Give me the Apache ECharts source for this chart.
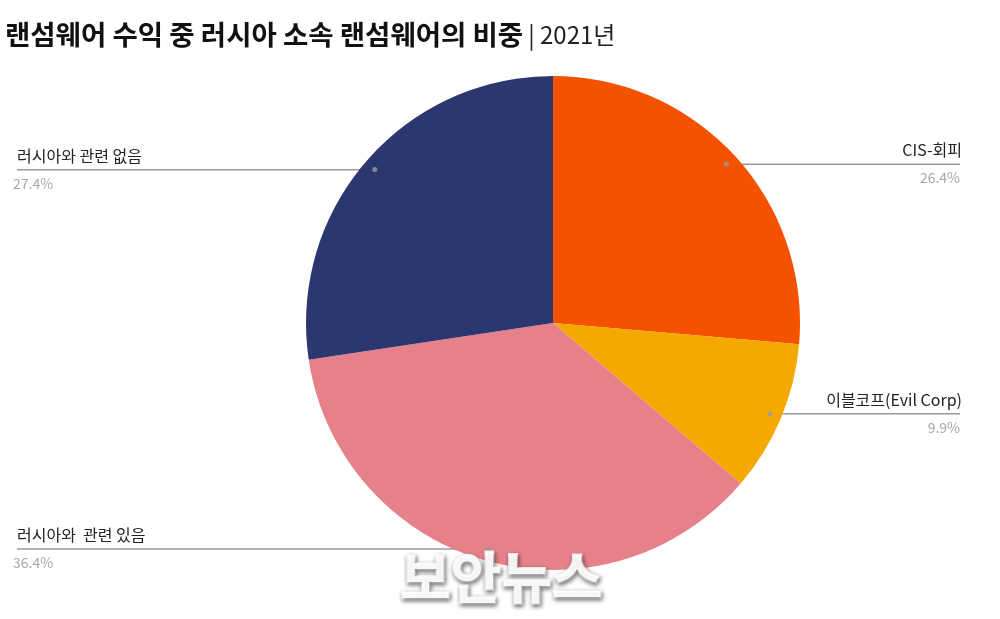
<!DOCTYPE html>
<html>
<head>
<meta charset="utf-8">
<script src="https://cdn.jsdelivr.net/npm/echarts@6/dist/echarts.min.js"></script>
<style>
html,body{margin:0;padding:0;background:#fff;}
#c{width:1000px;height:619px;}
</style>
</head>
<body>
<div id="c"></div>
<script>
const categories = ['CIS-회피', '이블코프(Evil Corp)', '러시아와  관련 있음', '러시아와 관련 없음'];
const values = [26.4, 9.9, 36.4, 27.4];
const colors = ['#F55200', '#F4A800', '#E6818A', '#2C3770'];

const total = values.reduce((a, b) => a + b, 0);
const mids = [];
let acc = 0;
values.forEach(v => { mids.push(acc + v / 2); acc += v; });

const FONT = '"Noto Sans CJK KR", "Noto Sans", sans-serif';
const BOX = 160;

const pieData = categories.map((n, i) => ({ name: n, value: values[i], itemStyle: { color: colors[i] } }));
const overlayData = categories.map((n, i) => {
  const right = mids[i] < total / 2;
  const al = right ? 'right' : 'left';
  return {
    name: n, value: values[i],
    label: {
      rich: {
        n: { fontFamily: FONT, fontSize: 16, color: '#222', lineHeight: 28, width: BOX, align: al, padding: right ? 0 : [0, 0, 0, 5] },
        p: { fontFamily: FONT, fontSize: 14, color: '#A8A8A8', lineHeight: 28, width: BOX, align: al, padding: right ? [0, 2, 0, 0] : [0, 0, 0, 1] }
      }
    }
  };
});

const chart = echarts.init(document.getElementById('c'));
chart.setOption({
  backgroundColor: '#fff',
  animation: false,
  title: {
    left: 0, top: 16,
    text: '{b|랜섬웨어 수익 중 러시아 소속 랜섬웨어의 비중} {n|| 2021년}',
    textStyle: {
      rich: {
        b: { fontFamily: FONT, fontSize: 27.5, fontWeight: 'bold', color: '#111' },
        n: { fontFamily: FONT, fontSize: 24, fontWeight: 'normal', color: '#222' }
      }
    }
  },
  polar: { center: [553, 323], radius: 247 },
  angleAxis: { type: 'value', min: 0, max: total, startAngle: 90, clockwise: true, show: false },
  radiusAxis: { type: 'value', min: 0, max: 1, show: false },
  series: [
    {
      type: 'pie',
      left: 0, top: 0, width: 974, height: 619,
      center: [553, 323],
      radius: 247,
      startAngle: 90,
      clockwise: true,
      silent: true,
      label: { show: false },
      labelLine: { show: false },
      itemStyle: { borderWidth: 0 },
      data: pieData
    },
    {
      type: 'pie',
      left: 0, top: 0, width: 974, height: 619,
      center: [553, 323],
      radius: 235,
      startAngle: 90,
      clockwise: true,
      silent: true,
      itemStyle: { color: 'rgba(0,0,0,0)' },
      label: {
        show: true,
        position: 'outside',
        alignTo: 'edge',
        edgeDistance: 12,
        distanceToLabelLine: -BOX,
        formatter: '{n|{b}}\n{p|{c}%}'
      },
      labelLine: { show: true, length: 0, length2: 20, lineStyle: { color: '#999', width: 1.5 } },
      data: overlayData
    },
    {
      type: 'scatter',
      coordinateSystem: 'polar',
      symbolSize: 5,
      silent: true,
      itemStyle: { color: '#9a9a9a' },
      data: mids.map(m => [0.952, m]),
      z: 5
    }
  ],
  graphic: [{
    type: 'text',
    left: 399, top: 548,
    z: 100,
    style: {
      text: '보안뉴스',
      font: 'bold 55px ' + FONT,
      fill: 'rgba(255,255,255,0.93)',
      stroke: 'rgba(255,255,255,0.93)',
      lineWidth: 2.5,
      textShadowBlur: 4,
      textShadowColor: 'rgba(0,0,0,0.5)',
      textShadowOffsetX: 1,
      textShadowOffsetY: 2
    }
  }]
});
</script>
</body>
</html>
